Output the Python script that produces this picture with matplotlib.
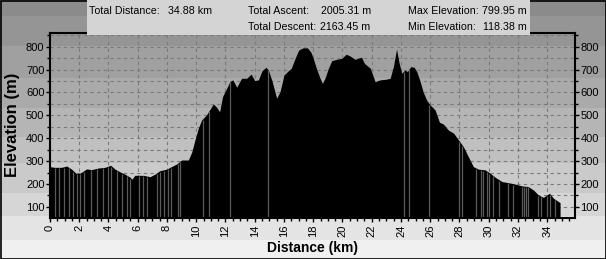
import matplotlib
matplotlib.use("Agg")
import matplotlib.pyplot as plt
from matplotlib.ticker import MultipleLocator
from matplotlib.patches import Rectangle

plt.rcParams['font.family'] = ['Liberation Sans', 'DejaVu Sans']

# ---- data ----
distance_km = [0.0, 0.3, 0.8, 1.14, 1.48, 1.78, 2.05, 2.5, 2.85, 3.3, 3.76, 4.15, 4.45, 4.79,
               5.13, 5.47, 5.6, 5.8, 6.4, 6.84, 7.2, 7.5, 7.98, 8.3, 8.67, 9.0, 9.46, 9.7,
               9.92, 10.15, 10.37, 10.7, 11.17, 11.4, 11.6, 11.8, 12.08, 12.3, 12.5, 12.77,
               13.1, 13.45, 13.75, 14.0, 14.25, 14.5, 14.77, 14.93, 15.16, 15.5, 15.73, 16.0,
               16.3, 16.5, 16.76, 17.0, 17.3, 17.6, 17.85, 18.0, 18.24, 18.47, 18.63, 18.8,
               19.04, 19.27, 19.6, 19.95, 20.25, 20.5, 20.86, 21.3, 21.5, 21.9, 22.07, 22.23,
               22.57, 23.0, 23.26, 23.48, 23.7, 23.85, 24.05, 24.28, 24.44, 24.67, 24.9, 25.08,
               25.3, 25.53, 25.77, 26.0, 26.33, 26.63, 26.9, 27.24, 27.6, 27.93, 28.27, 28.6,
               28.95, 29.3, 29.75, 30.1, 30.44, 30.9, 31.35, 31.8, 32.26, 32.7, 33.06, 33.4,
               33.74, 33.97, 34.15, 34.43, 34.66, 34.88]
elevation_m = [276, 273, 273, 279, 265, 247, 247, 266, 263, 270, 273, 282, 265, 253,
               243, 230, 221, 238, 238, 232, 244, 258, 265, 276, 288, 305, 305, 341,
               395, 445, 480, 502, 550, 535, 516, 582, 618, 647, 655, 623,
               662, 662, 680, 652, 655, 695, 710, 698, 655, 575, 604, 676,
               695, 706, 749, 785, 795, 795, 775, 749, 700, 662, 640, 662,
               706, 739, 745, 749, 767, 760, 745, 754, 727, 706, 676, 647,
               655, 658, 662, 713, 790, 735, 684, 698, 691, 713, 710, 691,
               650, 600, 565, 545, 524, 470, 462, 436, 422, 393, 363, 320,
               276, 265, 262, 247, 230, 211, 206, 200, 192, 189, 174, 152,
               142, 152, 160, 138, 128, 119]

# lighter seams visible inside the filled profile
seam_km = [0.35, 0.6, 0.95, 1.3, 1.6, 1.85, 2.05, 2.3, 2.8, 3.2, 3.6, 3.95, 4.2, 4.55,
           4.9, 5.25, 5.5, 6.1, 6.35, 6.6, 7.3, 7.55, 7.8, 8.1, 8.3, 8.75, 8.9,
           10.44, 10.9, 12.33, 14.89, 24.24, 24.58, 25.94, 28.0, 28.2, 29.14, 29.5,
           29.62, 29.85, 30.05, 30.3, 30.7, 31.3, 31.65, 32.25, 32.4, 32.55, 32.7,
           33.4, 33.55, 33.97, 34.2, 34.55]

stats_labels = ["Total Distance:", "Total Ascent:", "Total Descent:", "Max Elevation:", "Min Elevation:"]
stats_values = ["34.88 km", "2005.31 m", "2163.45 m", "799.95 m", "118.38 m"]

W, H = 606, 259
fig = plt.figure(figsize=(W / 100, H / 100), dpi=100)

# background bands
bg = fig.add_axes([0, 0, 1, 1], zorder=-10)
bg.set_xlim(0, W)
bg.set_ylim(H, 0)
bg.axis('off')
band_edges = [0, 16, 46, 78, 108, 137, 163, 193, 216, 240, 259]
band_colors = ['#8b8b8b', '#959595', '#a0a0a0', '#aaaaaa', '#b5b5b5',
               '#c0c0c0', '#cacaca', '#d6d6d6', '#e4e4e4', '#f0f0f0']
for i, c in enumerate(band_colors):
    bg.add_patch(Rectangle((0, band_edges[i]), W, band_edges[i + 1] - band_edges[i],
                           facecolor=c, edgecolor='none'))
bg.add_patch(Rectangle((0.5, 0.5), W - 1, H - 1, facecolor='none', edgecolor='black', lw=1.2))

# main axes
x0, x1, yt, yb = 50, 575, 32.5, 217.7
ax = fig.add_axes([x0 / W, (H - yb) / H, (x1 - x0) / W, (yb - yt) / H])
ax.set_facecolor('none')
ymin, ymax = 53, 862
ax.set_xlim(0, 35.9)
ax.set_ylim(ymin, ymax)
ax.fill_between(distance_km, elevation_m, ymin, color='black', lw=0, zorder=2)
import numpy as np
seam_top = np.interp(seam_km, distance_km, elevation_m) - 4
ax.vlines(seam_km, ymin, seam_top, color='#5a5a5a', lw=0.9, zorder=3)

ax.xaxis.set_major_locator(MultipleLocator(2))
ax.xaxis.set_minor_locator(MultipleLocator(0.5))
ax.yaxis.set_major_locator(MultipleLocator(100))
ax.yaxis.set_minor_locator(MultipleLocator(50))
ax.set_yticks(range(100, 801, 100))
ax.grid(True, which='major', axis='x', color='#7a7a7a', ls=(0, (3, 3)), lw=0.8, zorder=1)
ax.grid(True, which='both', axis='y', color='#7a7a7a', ls=(0, (3, 3)), lw=0.8, zorder=1)
ax.set_axisbelow(True)
ax.tick_params(axis='both', which='both', direction='out', color='black', labelsize=8)
ax.tick_params(axis='both', which='major', length=3, width=1, pad=1)
ax.tick_params(axis='both', which='minor', length=2, width=1)
ax.tick_params(axis='y', which='both', left=True, right=True, labelleft=True, labelright=True)
ax.tick_params(axis='x', labelrotation=90, pad=2)
for s in ax.spines.values():
    s.set_linewidth(1.5)
    s.set_color('black')
    s.set_zorder(4)

ax.set_xlabel("Distance (km)", fontsize=10, fontweight='bold', labelpad=3)
ax.set_ylabel("Elevation (m)", fontsize=12, fontweight='bold', labelpad=4)

# stats box
bg2 = fig.add_axes([0, 0, 1, 1], zorder=10)
bg2.set_xlim(0, W)
bg2.set_ylim(H, 0)
bg2.axis('off')
bg2.add_patch(Rectangle((87, 0), 443, 35, facecolor='#d4d4d4', edgecolor='none'))
fs = 7.7
row1, row2 = 11.5, 26.5
bg2.text(89, row1, stats_labels[0], fontsize=fs, va='center', ha='left')
bg2.text(168, row1, stats_values[0], fontsize=fs, va='center', ha='left')
bg2.text(248.5, row1, stats_labels[1], fontsize=fs, va='center', ha='left')
bg2.text(321, row1, stats_values[1], fontsize=fs, va='center', ha='left')
bg2.text(248.5, row2, stats_labels[2], fontsize=fs, va='center', ha='left')
bg2.text(320, row2, stats_values[2], fontsize=fs, va='center', ha='left')
bg2.text(408.5, row1, stats_labels[3], fontsize=fs, va='center', ha='left')
bg2.text(482.5, row1, stats_values[3], fontsize=fs, va='center', ha='left')
bg2.text(408.5, row2, stats_labels[4], fontsize=fs, va='center', ha='left')
bg2.text(483, row2, stats_values[4], fontsize=fs, va='center', ha='left')

fig.savefig("out.png", dpi=100)
